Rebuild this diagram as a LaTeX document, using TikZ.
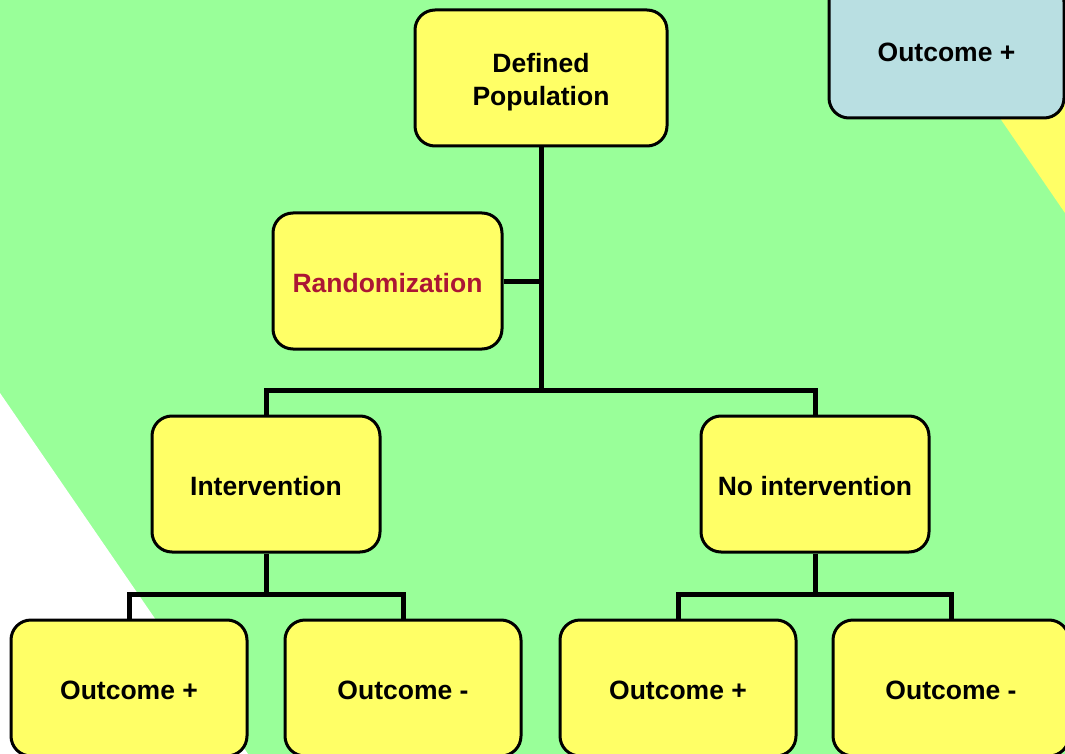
\documentclass[tikz,border=0pt]{standalone}
\usepackage{fontspec}
\setmainfont{Liberation Sans}
\begin{document}
\definecolor{bggreen}{RGB}{153,255,153}
\definecolor{boxyellow}{RGB}{255,255,102}
\definecolor{boxblue}{RGB}{185,223,226}
\definecolor{randred}{RGB}{172,22,52}
\begin{tikzpicture}[x=1pt,y=-1pt,
  box/.style={draw=black, line width=3pt, rounded corners=20pt, fill=boxyellow,
    align=center, font=\fontsize{26.5}{33}\selectfont\bfseries,
    minimum height=136pt, inner sep=0pt, text height=23pt, text depth=0pt},
  link/.style={draw=black, line width=5pt, line join=miter}]
\useasboundingbox (0,0) rectangle (1065,754);
\clip (0,0) rectangle (1065,754);
% background bands
\fill[bggreen] (0,0) rectangle (1065,754);
\fill[boxyellow] (919,0) -- (1065,0) -- (1065,213) -- cycle;
\fill[white] (0,393) -- (0,754) -- (248,754) -- cycle;
% boxes
\node[box, minimum width=252pt, text height=55pt] (pop) at (541,78) {Defined\\Population};
\node[box, minimum width=229pt, text=randred] (rand) at (387.5,281) {Randomization};
\node[box, minimum width=228pt] (int) at (266,484) {Intervention};
\node[box, minimum width=228pt] (noint) at (815,484) {No intervention};
\node[box, minimum width=236pt] (o1) at (129,688) {Outcome +};
\node[box, minimum width=236pt] (o2) at (403,688) {Outcome -};
\node[box, minimum width=236pt] (o3) at (678,688) {Outcome +};
\node[box, minimum width=236pt] (o4) at (951,688) {Outcome -};
\node[box, minimum width=235pt, fill=boxblue] (top) at (946.5,50) {Outcome +};
% junction points
\coordinate (j1) at (541,390);
\coordinate (j2) at (266,594);
\coordinate (j3) at (815,594);
% connectors
\draw[link] (pop.south) -- (j1);
\draw[link] (rand.east) -- (rand.east -| pop.south);
\draw[link] (int.north) |- (j1) -| (noint.north);
\draw[link] (int.south) -- (j2);
\draw[link] (o1.north) |- (j2) -| (o2.north);
\draw[link] (noint.south) -- (j3);
\draw[link] (o3.north) |- (j3) -| (o4.north);
\end{tikzpicture}
\end{document}
